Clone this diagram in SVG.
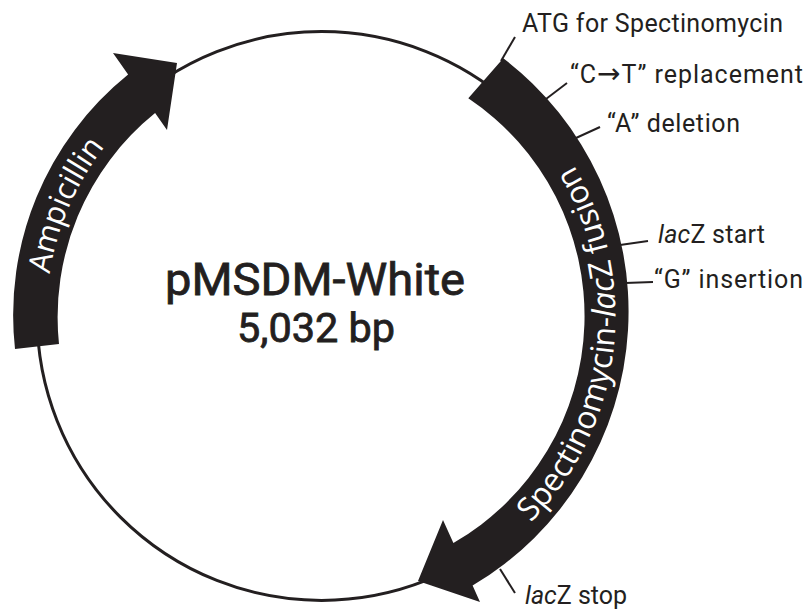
<svg xmlns="http://www.w3.org/2000/svg" width="809" height="611" viewBox="0 0 809 611">
<defs>
<style>
.bb{fill:none;stroke:#231f20;stroke-width:3}
.band{fill:#231f20;stroke:none}
.tick{stroke:#231f20;stroke-width:2;fill:none}
.lbl{font-family:Roboto,"Liberation Sans",sans-serif;font-size:25px;fill:#231f20}
.btxt{font-family:"Open Sans","Liberation Sans",sans-serif;fill:#ffffff}
.ttl{font-family:Roboto,"Liberation Sans",sans-serif;fill:#231f20;text-anchor:middle;stroke:#231f20;stroke-width:0.8}
.it{font-style:italic}
.arr{font-family:"DejaVu Sans",sans-serif;font-size:28px}
</style>
<path id="specPath" d="M388.4,602.3 A294,294 0 0 0 454.3,53.7"/>
<path id="ampPath" d="M87.3,460.1 A275,275 0 0 1 266.2,46.6"/>
</defs>
<rect width="809" height="611" fill="#ffffff"/>
<g id="backbone">
<circle class="bb" cx="321.5" cy="316" r="284.4"/>
</g>
<g id="connectors">
<line class="tick" x1="501" y1="61" x2="515" y2="37"/>
<line class="tick" x1="546" y1="99" x2="567" y2="83"/>
<line class="tick" x1="576" y1="138" x2="600" y2="127"/>
<line class="tick" x1="620" y1="245" x2="648" y2="241"/>
<line class="tick" x1="625" y1="283" x2="653" y2="282"/>
<line class="tick" x1="500" y1="569" x2="515" y2="593"/>
</g>
<g id="spectinomycin">
<path class="band" d="M503.3,58.3 A318.7,318.7 0 0 1 472.6,585.6 L480,602 L418,581 L443,520 L453.4,543 A262,262 0 0 0 468.3,98.3 Z"/>
<text class="btxt" font-size="32"><textPath href="#specPath" startOffset="50%" text-anchor="middle">Spectinomycin-<tspan class="it">lac</tspan>Z fusion</textPath></text>
</g>
<g id="ampicillin">
<path class="band" d="M15,349 A309,309 0 0 1 128.1,74.6 L113,53 L177,63 L167,130 L155.1,113.1 A262,262 0 0 0 59,344 Z"/>
<text class="btxt" font-size="31"><textPath href="#ampPath" startOffset="50%" text-anchor="middle">Ampicillin</textPath></text>
</g>
<g id="title">
<text class="ttl" x="315" y="295" font-size="45" textLength="300" lengthAdjust="spacingAndGlyphs">pMSDM-White</text>
<text class="ttl" x="316" y="341.7" font-size="40" textLength="158" lengthAdjust="spacingAndGlyphs">5,032 bp</text>
</g>
<g id="labels">
<text class="lbl" x="522" y="31.7" textLength="261">ATG for Spectinomycin</text>
<text class="lbl" x="570" y="83.3" textLength="233">“C<tspan class="arr">→</tspan>T” replacement</text>
<text class="lbl" x="607" y="131.7" textLength="133">“A” deletion</text>
<text class="lbl" x="658" y="242.7" textLength="107"><tspan class="it">lac</tspan>Z start</text>
<text class="lbl" x="654" y="288.3" textLength="149">“G” insertion</text>
<text class="lbl" x="525" y="604" textLength="102"><tspan class="it">lac</tspan>Z stop</text>
</g>
</svg>
